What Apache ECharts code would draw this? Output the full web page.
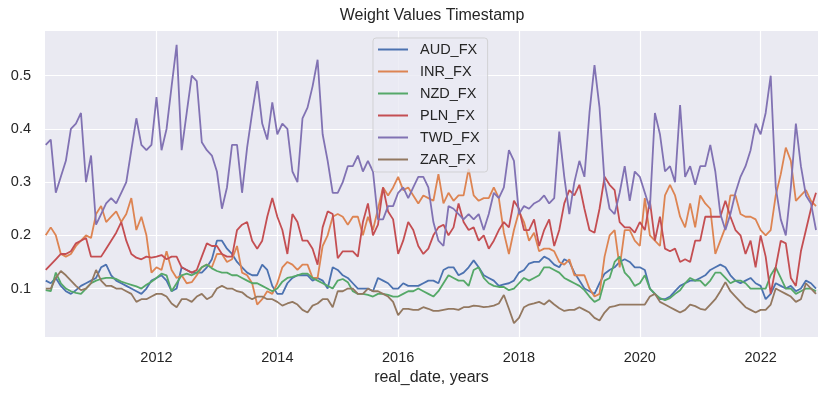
<!DOCTYPE html>
<html lang="en">
<head>
    <meta charset="utf-8">
    <title>Weight Values Timestamp</title>
    <script src="https://cdn.jsdelivr.net/npm/echarts@6/dist/echarts.min.js"></script>
    <style>
        html, body { margin: 0; padding: 0; background: #fff; }
        #main { width: 829px; height: 396px; }
    </style>
</head>
<body>
    <div id="main"></div>

    <script type="text/javascript">
    // monthly points, Mar 2010 .. Dec 2022 (154 months)
    var dates = [];
    for (var y = 2010, m = 3; dates.length < 154; m++) {
        if (m > 12) { m = 1; y++; }
        dates.push(y + '-' + (m < 10 ? '0' : '') + m + '-01');
    }

    var yearTicks = [2012, 2014, 2016, 2018, 2020, 2022];
    var valueTicks = [0.1, 0.2, 0.3, 0.4, 0.5];

    var aud = [
        0.115, 0.11, 0.12, 0.105, 0.095, 0.09, 0.097, 0.105, 0.11, 0.115,
        0.12, 0.14, 0.145, 0.125, 0.115, 0.11, 0.105, 0.10, 0.095, 0.09,
        0.10, 0.115, 0.12, 0.125, 0.115, 0.095, 0.10, 0.14, 0.135, 0.13,
        0.13, 0.13, 0.14, 0.155, 0.19, 0.19, 0.175, 0.165, 0.15, 0.14,
        0.13, 0.125, 0.125, 0.145, 0.135, 0.105, 0.09, 0.09, 0.11, 0.12,
        0.125, 0.125, 0.125, 0.115, 0.12, 0.115, 0.10, 0.14, 0.135, 0.125,
        0.12, 0.11, 0.10, 0.10, 0.10, 0.095, 0.12, 0.115, 0.11, 0.10,
        0.10, 0.11, 0.105, 0.105, 0.105, 0.11, 0.115, 0.115, 0.11, 0.135,
        0.14, 0.14, 0.125, 0.13, 0.14, 0.153, 0.14, 0.125, 0.12, 0.115,
        0.105, 0.108, 0.11, 0.115, 0.13, 0.135, 0.147, 0.15, 0.15, 0.16,
        0.155, 0.145, 0.14, 0.155, 0.15, 0.13, 0.115, 0.10, 0.095, 0.09,
        0.11, 0.128, 0.135, 0.14, 0.15, 0.155, 0.15, 0.14, 0.14, 0.135,
        0.10, 0.09, 0.08, 0.08, 0.085, 0.095, 0.105, 0.11, 0.115, 0.115,
        0.12, 0.125, 0.135, 0.14, 0.145, 0.14, 0.125, 0.115, 0.11, 0.115,
        0.12, 0.11, 0.105, 0.08, 0.09, 0.11, 0.105, 0.10, 0.105, 0.095,
        0.10, 0.115, 0.11, 0.10
    ];
    var inr = [
        0.20, 0.215, 0.20, 0.165, 0.16, 0.165, 0.18, 0.19, 0.20, 0.195,
        0.24, 0.255, 0.225, 0.235, 0.245, 0.225, 0.24, 0.27, 0.21, 0.235,
        0.20, 0.13, 0.14, 0.135, 0.17, 0.135, 0.12, 0.125, 0.11, 0.112,
        0.125, 0.14, 0.145, 0.14, 0.165, 0.165, 0.15, 0.155, 0.18, 0.13,
        0.125, 0.11, 0.07, 0.08, 0.095, 0.09, 0.11, 0.14, 0.15, 0.145,
        0.135, 0.145, 0.145, 0.12, 0.12, 0.18, 0.20, 0.235, 0.24, 0.235,
        0.22, 0.235, 0.235, 0.20, 0.235, 0.21, 0.25, 0.29, 0.275, 0.29,
        0.31, 0.285, 0.29, 0.275, 0.26, 0.275, 0.27, 0.265, 0.315, 0.26,
        0.28, 0.265, 0.275, 0.275, 0.325, 0.275, 0.265, 0.27, 0.27, 0.29,
        0.27, 0.205, 0.165, 0.21, 0.245, 0.225, 0.19, 0.205, 0.17, 0.175,
        0.175, 0.17, 0.15, 0.145, 0.155, 0.125, 0.125, 0.125, 0.10, 0.085,
        0.09, 0.16, 0.20, 0.21, 0.14, 0.21, 0.21, 0.19, 0.18, 0.27,
        0.20, 0.19, 0.18, 0.275, 0.295, 0.275, 0.235, 0.215, 0.26, 0.215,
        0.275, 0.26, 0.25, 0.165, 0.19, 0.215, 0.275, 0.275, 0.24, 0.235,
        0.235, 0.23, 0.21, 0.20, 0.21, 0.275, 0.315, 0.365, 0.34, 0.265,
        0.275, 0.285, 0.265, 0.255
    ];
    var nzd = [
        0.097, 0.095, 0.13, 0.11, 0.10, 0.095, 0.092, 0.09, 0.10, 0.11,
        0.115, 0.118, 0.12, 0.12, 0.118, 0.113, 0.11, 0.107, 0.104, 0.10,
        0.107, 0.113, 0.12, 0.128, 0.125, 0.095, 0.11, 0.125, 0.128, 0.125,
        0.13, 0.14, 0.145, 0.138, 0.133, 0.13, 0.13, 0.125, 0.125, 0.12,
        0.115, 0.11, 0.11, 0.105, 0.10, 0.095, 0.10, 0.113, 0.12, 0.122,
        0.125, 0.128, 0.128, 0.12, 0.115, 0.11, 0.105, 0.10, 0.115, 0.118,
        0.112, 0.095, 0.09, 0.09, 0.088, 0.085, 0.09, 0.09, 0.088, 0.085,
        0.085, 0.09, 0.095, 0.095, 0.10, 0.095, 0.09, 0.085, 0.095, 0.11,
        0.125, 0.12, 0.115, 0.115, 0.105, 0.135, 0.14, 0.12, 0.11, 0.105,
        0.103, 0.103, 0.097, 0.10, 0.11, 0.12, 0.115, 0.12, 0.125, 0.14,
        0.14, 0.135, 0.13, 0.12, 0.115, 0.11, 0.105, 0.097, 0.085, 0.075,
        0.08, 0.115, 0.12, 0.15, 0.16, 0.13, 0.12, 0.105, 0.11, 0.125,
        0.10, 0.09, 0.082, 0.078, 0.082, 0.09, 0.097, 0.11, 0.12, 0.115,
        0.115, 0.105, 0.115, 0.13, 0.13, 0.12, 0.11, 0.115, 0.115, 0.11,
        0.10, 0.10, 0.10, 0.10, 0.125, 0.14, 0.12, 0.10, 0.10, 0.09,
        0.095, 0.10, 0.10, 0.095
    ];
    var pln = [
        0.135, 0.145, 0.155, 0.165, 0.165, 0.17, 0.185, 0.19, 0.195, 0.16,
        0.16, 0.16, 0.175, 0.19, 0.205, 0.225, 0.19, 0.165, 0.158, 0.155,
        0.16, 0.158, 0.16, 0.163, 0.155, 0.16, 0.16, 0.14, 0.135, 0.13,
        0.135, 0.16, 0.185, 0.18, 0.18, 0.165, 0.16, 0.16, 0.21, 0.22,
        0.225, 0.19, 0.175, 0.19, 0.235, 0.27, 0.235, 0.21, 0.165, 0.24,
        0.225, 0.19, 0.19, 0.175, 0.145, 0.215, 0.245, 0.24, 0.157, 0.17,
        0.17, 0.17, 0.16, 0.225, 0.26, 0.20, 0.22, 0.29, 0.245, 0.23,
        0.165, 0.19, 0.225, 0.21, 0.18, 0.165, 0.175, 0.20, 0.215, 0.22,
        0.20, 0.215, 0.26, 0.225, 0.21, 0.215, 0.19, 0.20, 0.175, 0.19,
        0.21, 0.225, 0.215, 0.265, 0.25, 0.21, 0.21, 0.23, 0.18, 0.21,
        0.23, 0.18, 0.21, 0.26, 0.285, 0.275, 0.295, 0.25, 0.21, 0.205,
        0.25, 0.31, 0.295, 0.285, 0.225, 0.215, 0.215, 0.205, 0.225, 0.21,
        0.265, 0.19, 0.235, 0.175, 0.17, 0.175, 0.15, 0.155, 0.15, 0.19,
        0.19, 0.235, 0.235, 0.235, 0.235, 0.265, 0.235, 0.21, 0.20, 0.165,
        0.19, 0.14, 0.20, 0.16, 0.09, 0.14, 0.19, 0.185, 0.12, 0.105,
        0.17, 0.21, 0.25, 0.28
    ];
    var twd = [
        0.37, 0.38, 0.28, 0.31, 0.34, 0.40, 0.41, 0.43, 0.30, 0.35,
        0.22, 0.24, 0.26, 0.27, 0.26, 0.28, 0.30, 0.36, 0.42, 0.37,
        0.36, 0.37, 0.46, 0.36, 0.40, 0.48, 0.558, 0.36, 0.43, 0.50,
        0.49, 0.375, 0.36, 0.35, 0.32, 0.25, 0.29, 0.37, 0.37, 0.28,
        0.365, 0.43, 0.49, 0.41, 0.38, 0.45, 0.39, 0.41, 0.40, 0.32,
        0.30, 0.42, 0.44, 0.48, 0.53, 0.39, 0.34, 0.28, 0.28, 0.30,
        0.33, 0.33, 0.35, 0.32, 0.34, 0.32, 0.23, 0.23, 0.255, 0.255,
        0.28, 0.29, 0.27, 0.29, 0.31, 0.31, 0.29, 0.225, 0.19, 0.18,
        0.255, 0.25, 0.24, 0.23, 0.24, 0.23, 0.24, 0.21, 0.24, 0.28,
        0.27, 0.29, 0.36, 0.34, 0.24, 0.255, 0.25, 0.26, 0.265, 0.275,
        0.26, 0.27, 0.395, 0.31, 0.24, 0.30, 0.34, 0.31, 0.43, 0.52,
        0.44, 0.30, 0.25, 0.24, 0.28, 0.33, 0.265, 0.32, 0.31, 0.28,
        0.25, 0.43, 0.39, 0.32, 0.33, 0.30, 0.445, 0.31, 0.33, 0.295,
        0.33, 0.33, 0.37, 0.32, 0.24, 0.21, 0.24, 0.28, 0.31, 0.33,
        0.36, 0.41, 0.39, 0.43, 0.50, 0.29, 0.23, 0.20, 0.29, 0.41,
        0.33, 0.275, 0.26, 0.21
    ];
    var zar = [
        0.10, 0.10, 0.12, 0.133, 0.125, 0.115, 0.105, 0.097, 0.10, 0.11,
        0.135, 0.115, 0.105, 0.105, 0.10, 0.10, 0.095, 0.09, 0.075, 0.08,
        0.08, 0.085, 0.09, 0.09, 0.085, 0.072, 0.065, 0.08, 0.08, 0.075,
        0.085, 0.09, 0.08, 0.085, 0.10, 0.105, 0.10, 0.10, 0.095, 0.093,
        0.085, 0.08, 0.085, 0.085, 0.08, 0.08, 0.075, 0.068, 0.072, 0.075,
        0.07, 0.06, 0.055, 0.068, 0.072, 0.08, 0.08, 0.065, 0.095, 0.095,
        0.10, 0.10, 0.09, 0.09, 0.10, 0.095, 0.095, 0.09, 0.085, 0.075,
        0.05, 0.062, 0.062, 0.06, 0.06, 0.065, 0.062, 0.058, 0.058, 0.06,
        0.062, 0.062, 0.06, 0.065, 0.065, 0.068, 0.067, 0.065, 0.066, 0.068,
        0.072, 0.088, 0.062, 0.035, 0.045, 0.065, 0.07, 0.072, 0.075, 0.07,
        0.078, 0.07, 0.063, 0.058, 0.06, 0.06, 0.065, 0.06, 0.055, 0.045,
        0.04, 0.055, 0.065, 0.067, 0.07, 0.07, 0.07, 0.07, 0.07, 0.07,
        0.085, 0.09, 0.075, 0.07, 0.065, 0.06, 0.055, 0.06, 0.07, 0.067,
        0.062, 0.06, 0.07, 0.08, 0.095, 0.112, 0.095, 0.085, 0.075, 0.065,
        0.06, 0.055, 0.06, 0.06, 0.07, 0.10, 0.095, 0.09, 0.085, 0.075,
        0.08, 0.11, 0.10, 0.09
    ];

    var names = ['AUD_FX', 'INR_FX', 'NZD_FX', 'PLN_FX', 'TWD_FX', 'ZAR_FX'];
    var values = [aud, inr, nzd, pln, twd, zar];
    var colors = ['#4C72B0', '#DD8452', '#55A868', '#C44E52', '#8172B3', '#937860'];

    var font = 'Liberation Sans, Arial, sans-serif';
    var ink = '#262626';

    // 'YYYY-MM-DD' -> decimal year, so the x axis can be a plain value axis
    function toYear(s) {
        var p = s.split('-');
        return +p[0] + (+p[1] - 1) / 12 + (+p[2] - 1) / 365;
    }

    var chart = echarts.init(document.getElementById('main'));

    chart.setOption({
        backgroundColor: '#ffffff',
        color: colors,
        animation: false,
        title: {
            text: 'Weight Values Timestamp',
            left: 432,
            top: 8,
            padding: 0,
            textAlign: 'center',
            textStyle: { fontFamily: font, fontSize: 16, fontWeight: 'normal', color: ink }
        },
        legend: {
            data: names,
            orient: 'vertical',
            left: 373,
            top: 38,
            padding: [3, 8, 4, 5],
            itemGap: 5,
            itemWidth: 30,
            itemHeight: 2,
            icon: 'rect',
            backgroundColor: 'rgba(234,234,242,0.8)',
            borderColor: 'rgba(204,204,204,0.8)',
            borderWidth: 1,
            borderRadius: 3,
            textStyle: {
                fontFamily: font, fontSize: 14.5, color: ink,
                lineHeight: 17, padding: [0, 0, 0, 7]
            }
        },
        grid: {
            left: 45, right: 11, top: 31, bottom: 59,
            containLabel: false,
            outerBoundsMode: 'none',
            show: true,
            backgroundColor: '#EAEAF2',
            borderWidth: 0
        },
        xAxis: {
            type: 'value',
            min: toYear('2010-02-27'),
            max: toYear('2022-12-13'),
            name: 'real_date, years',
            nameLocation: 'middle',
            nameGap: 33,
            nameTextStyle: { fontFamily: font, fontSize: 16, color: ink },
            axisLine: { show: false },
            axisTick: { show: false, customValues: yearTicks },
            axisLabel: {
                customValues: yearTicks,
                margin: 13,
                fontFamily: font, fontSize: 14.5, color: ink,
                formatter: function (v) { return String(Math.round(v)); }
            },
            splitLine: { show: true, lineStyle: { color: '#ffffff', width: 1.2 } }
        },
        yAxis: {
            type: 'value',
            min: 0.009,
            max: 0.584,
            axisLine: { show: false },
            axisTick: { show: false, customValues: valueTicks },
            axisLabel: {
                customValues: valueTicks,
                margin: 14,
                fontFamily: font, fontSize: 14.5, color: ink,
                formatter: function (v) { return v.toFixed(1); }
            },
            splitLine: { show: true, lineStyle: { color: '#ffffff', width: 1.2 } }
        },
        series: names.map(function (n, i) {
            return {
                name: n,
                type: 'line',
                showSymbol: false,
                lineStyle: { width: 1.8 },
                data: dates.map(function (d, j) { return [toYear(d), values[i][j]]; })
            };
        })
    });
    </script>
</body>
</html>
